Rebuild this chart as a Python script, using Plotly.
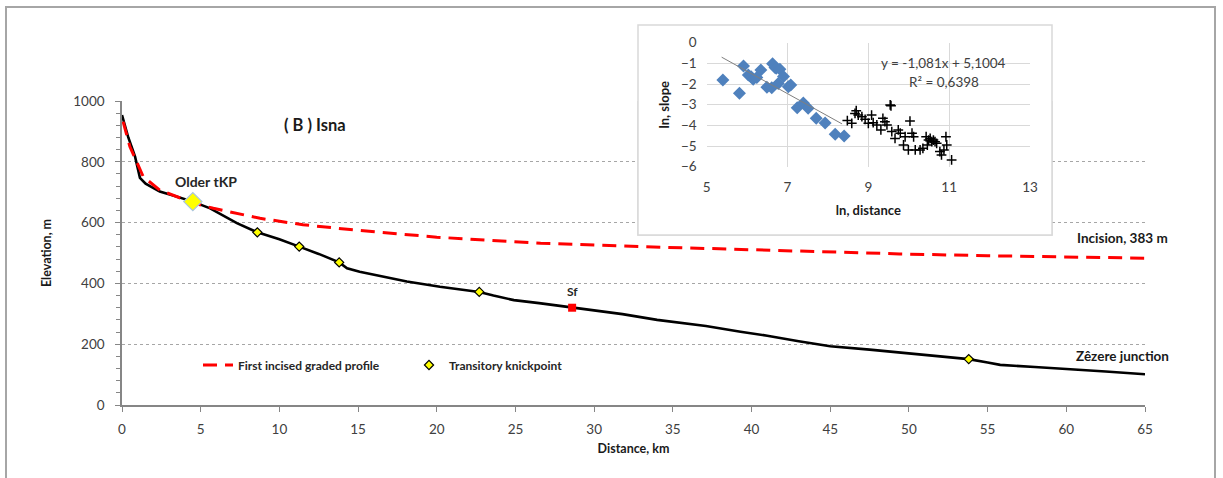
import plotly.graph_objects as go

# ---------------- data ----------------
profile_km = [0, 0.4, 0.83, 1.14, 1.5, 2.4, 3.3, 4.5, 5.6, 6.5, 7.3, 8.6, 10, 11.26, 12.5, 13.8, 14.3,
              15.1, 16.0, 18.1, 20.2, 21.5, 22.7, 23.6, 24.9, 26.5, 28.6, 30, 31.8, 34.0, 37.1, 39.3,
              41, 43, 45, 47.5, 50, 52, 53.8, 55, 55.8, 58, 60, 62.5, 65]
profile_elev = [954, 880, 817, 747, 728, 702, 688, 669, 647, 620, 598, 568, 545, 521, 497, 469, 450,
                438, 428, 406, 389, 380, 372, 360, 345, 335, 320, 312, 299, 280, 260, 241,
                228, 210, 193, 182, 170, 162, 151, 140, 132, 125, 119, 110, 101]

graded_km = [0.07, 0.5, 0.93, 1.35, 2.4, 3.5, 4.5, 5.8, 8.77, 11.5, 14.7, 20, 26.6, 33, 39, 44,
             49.4, 55, 60, 65]
graded_elev = [932, 850, 800, 751, 707, 685, 665, 647, 614, 593, 576, 552, 532, 521, 512, 503,
               497, 491, 487, 483]

knick_km = [8.6, 11.26, 13.8, 22.7, 53.8]
knick_elev = [568, 521, 469, 372, 151]

older_km = [4.5]
older_elev = [669]

sf_km = [28.6]
sf_elev = [320]

# inset: ln distance vs ln slope
blue_lnx = [5.40, 5.81, 5.91, 6.03, 6.10, 6.15, 6.24, 6.34, 6.49, 6.61, 6.63, 6.69, 6.72, 6.81, 6.77,
            6.90, 7.02, 7.08, 7.24, 7.39, 7.51, 7.71, 7.93, 8.18, 8.40]
blue_lny = [-1.80, -2.45, -1.13, -1.56, -1.65, -1.77, -1.68, -1.32, -2.15, -2.18, -1.02, -1.20, -1.24,
            -1.29, -1.97, -1.63, -2.13, -2.05, -3.15, -2.92, -3.17, -3.66, -3.88, -4.43, -4.51]

cross_lnx = [8.48, 8.59, 8.67, 8.70, 8.75, 8.84, 8.92, 9.00, 9.08, 9.12, 9.21, 9.31, 9.36, 9.41, 9.46,
             9.54, 9.56, 9.58, 9.66, 9.74, 9.79, 9.87, 9.91, 9.99, 10.03, 10.08, 10.12, 10.16, 10.28,
             10.35, 10.43, 10.46, 10.49, 10.53, 10.57, 10.61, 10.65, 10.69, 10.77, 10.81, 10.87,
             10.92, 10.94, 11.06]
cross_lny = [-3.77, -3.90, -3.42, -3.29, -3.50, -3.58, -3.71, -3.90, -3.50, -3.87, -3.98, -4.22, -3.66,
             -3.82, -3.98, -3.01, -3.05, -4.30, -4.63, -4.22, -4.38, -4.95, -4.55, -5.19, -3.79, -4.38,
             -4.55, -5.19, -5.19, -5.11, -4.55, -4.95, -4.71, -4.63, -4.79, -4.71, -4.79, -4.87,
             -5.27, -5.43, -5.19, -4.55, -4.95, -5.67]

trend_lnx = [5.37, 8.35]
trend_lny = [-0.70, -3.93]

x_ticks = list(range(0, 70, 5))
y_ticks = [0, 200, 400, 600, 800, 1000]

# ---------------- geometry helpers (pixels -> paper) ----------------
W, H = 1223, 478
ML, MR, MT, MB = 122, 78, 25, 73
PW, PH = W - ML - MR, H - MT - MB


def px(x):
    return (x - ML) / PW


def py(y):
    return (H - MB - y) / PH


FONT = "Lato"
TICK_COL = "#404040"

fig = go.Figure()

# main chart traces
fig.add_trace(go.Scatter(x=profile_km, y=profile_elev, mode="lines",
                         line=dict(color="black", width=2.6), showlegend=False,
                         xaxis="x", yaxis="y"))
fig.add_trace(go.Scatter(x=graded_km, y=graded_elev, mode="lines",
                         line=dict(color="#ff0000", width=3, dash="14px,8px"),
                         name="First incised graded profile", xaxis="x", yaxis="y"))
fig.add_trace(go.Scatter(x=knick_km, y=knick_elev, mode="markers",
                         marker=dict(symbol="diamond", size=7, color="#ffff00",
                                     line=dict(color="black", width=1.2)),
                         name="Transitory knickpoint", xaxis="x", yaxis="y"))
fig.add_trace(go.Scatter(x=older_km, y=older_elev, mode="markers",
                         marker=dict(symbol="diamond", size=14, color="#ffff00",
                                     line=dict(color="#a9c4e0", width=1.2)),
                         showlegend=False, xaxis="x", yaxis="y"))
fig.add_trace(go.Scatter(x=sf_km, y=sf_elev, mode="markers",
                         marker=dict(symbol="square", size=8, color="#ff0000"),
                         showlegend=False, xaxis="x", yaxis="y"))

# inset traces
fig.add_trace(go.Scatter(x=blue_lnx, y=blue_lny, mode="markers",
                         marker=dict(symbol="diamond", size=10, color="#4f81bd"),
                         showlegend=False, xaxis="x2", yaxis="y2"))
fig.add_trace(go.Scatter(x=cross_lnx, y=cross_lny, mode="markers",
                         marker=dict(symbol="cross-thin", size=7, color="black",
                                     line=dict(color="black", width=1.5)),
                         showlegend=False, xaxis="x2", yaxis="y2"))
fig.add_trace(go.Scatter(x=trend_lnx, y=trend_lny, mode="lines",
                         line=dict(color="#7f7f7f", width=1),
                         showlegend=False, xaxis="x2", yaxis="y2"))

main_top = py(101)

fig.update_layout(
    width=W, height=H,
    margin=dict(l=ML, r=MR, t=MT, b=MB),
    paper_bgcolor="white", plot_bgcolor="white",
    font=dict(family=FONT, color=TICK_COL),
    xaxis=dict(domain=[0, 1], range=[0, 65], tickvals=x_ticks, ticks="outside", ticklen=5,
               tickcolor="#868686", showline=True, linecolor="#868686", linewidth=1.5,
               showgrid=False, zeroline=False, tickfont=dict(size=13.5, color=TICK_COL),
               ticklabelstandoff=6,
               title=dict(text="<b>Distance, km</b>", font=dict(size=12.5, color="#1a1a1a"), standoff=8),
               anchor="y"),
    yaxis=dict(domain=[0, main_top], range=[0, 1000], tickvals=y_ticks, ticks="outside", ticklen=5,
               tickcolor="#868686", showline=True, linecolor="#868686", linewidth=1.5,
               showgrid=True, gridcolor="#a6a6a6", griddash="dot", gridwidth=1, zeroline=False,
               minor=dict(dtick=40, ticks="outside", ticklen=4, tickcolor="#868686", showgrid=False),
               tickfont=dict(size=13.5, color=TICK_COL), ticklabelstandoff=8,
               title=dict(text="<b>Elevation, m</b>", font=dict(size=12.5, color="#1a1a1a"), standoff=19),
               anchor="x"),
    xaxis2=dict(domain=[px(706.7), px(1030)], range=[5, 13], dtick=2, tick0=5,
                showgrid=True, gridcolor="#d9d9d9", gridwidth=1, zeroline=False, showline=False,
                ticks="", tickfont=dict(size=13.5, color=TICK_COL), ticklabelstandoff=11,
                title=dict(text="<b>ln, distance</b>", font=dict(size=13, color="#1a1a1a"), standoff=11),
                anchor="y2"),
    yaxis2=dict(domain=[py(166.7), py(42.7)], range=[-6, 0], dtick=1,
                showgrid=True, gridcolor="#d9d9d9", gridwidth=1, zeroline=False, showline=False,
                ticks="", tickfont=dict(size=13.5, color=TICK_COL), ticklabelstandoff=9,
                title=dict(text="<b>ln, slope</b>", font=dict(size=13, color="#1a1a1a"), standoff=8),
                anchor="x2"),
    legend=dict(orientation="h", x=px(198), y=py(365), xanchor="left", yanchor="middle",
                font=dict(size=12, color="#262626", family=FONT, weight="bold"),
                bgcolor="rgba(0,0,0,0)",
                entrywidth=166, entrywidthmode="pixels", traceorder="normal"),
)

# inset frame: white box with thin grey outline
box_x0_km = (638 - ML) / (PW / 65)
box_x1_km = (1052 - ML) / (PW / 65)
box_y0_m = (H - MB - 235) / (PH * main_top / 1000)
fig.add_shape(type="rect", xref="paper", yref="paper", x0=px(638), x1=px(1052), y0=py(235), y1=py(25),
              fillcolor="white", line=dict(color="#d9d9d9", width=1.5), layer="below")
fig.add_shape(type="rect", xref="x", yref="y", x0=box_x0_km, x1=box_x1_km, y0=box_y0_m, y1=1200,
              fillcolor="white", line=dict(color="#d9d9d9", width=1.5), layer="between")
# outer figure frame
fig.add_shape(type="rect", xref="paper", yref="paper", x0=px(6), x1=px(1215), y0=py(490), y1=py(7),
              fillcolor="rgba(0,0,0,0)", line=dict(color="#a6a6a6", width=2), layer="below")


def ann(text, x, y, size, color="black", xanchor="center"):
    fig.add_annotation(text=text, xref="paper", yref="paper", x=px(x), y=py(y), showarrow=False,
                       xanchor=xanchor, yanchor="middle", font=dict(size=size, color=color, family=FONT))


ann("<b>( B ) Isna</b>", 315, 125, 16.5, "#1a1a1a")
ann("<b>Older tKP</b>", 206, 181, 14, "#262626")
ann("<b>Sf</b>", 572, 291, 12, "#262626")
ann("<b>Incision, 383 m</b>", 1122, 238, 13.5, "#1a1a1a")
ann("<b>Zêzere junction</b>", 1122, 356, 13.5, "#1a1a1a")
ann("y = -1,081x + 5,1004", 943, 63, 13.5, TICK_COL)
ann("R² = 0,6398", 944, 82, 13.5, TICK_COL)

fig.write_html("out.html", config={"displayModeBar": False},
               post_script="document.body.style.margin='0';")
